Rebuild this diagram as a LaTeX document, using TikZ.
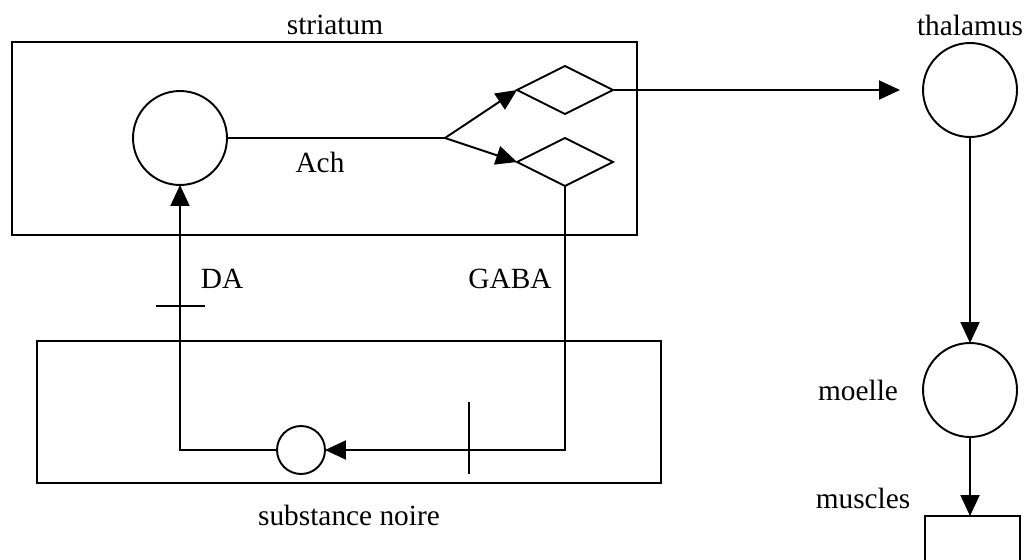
\documentclass[tikz,border=0pt]{standalone}
\usepackage{fontspec}
\setmainfont{Liberation Serif}
\usetikzlibrary{arrows.meta,shapes.geometric}
\def \globalscale {0.020000}

\begin{document}
\begin{tikzpicture}[x=\globalscale cm, y=-\globalscale cm, inner sep=0pt, outer sep=0pt,
    line width=1.1pt,
    every node/.append style={font=\fontsize{16.7}{20}\selectfont},
    box/.style={draw, rectangle},
    cell/.style={draw, circle, minimum size=1.88cm},
    smallcell/.style={draw, circle, minimum size=0.96cm},
    synapse/.style={draw, diamond, minimum width=1.92cm, minimum height=0.96cm},
    conn/.style={-{Triangle[length=0.42cm,width=0.38cm]}}]
  \useasboundingbox (0, 0) rectangle (1026, 560);

  % boxes
  \node[box, minimum width=12.5cm, minimum height=3.86cm] (striatumbox) at (324.5, 138.5){};
  \node[box, minimum width=12.48cm, minimum height=2.84cm] (noirebox) at (349, 412){};
  \node[box, minimum width=1.9cm, minimum height=1.9cm] (muscles) at (972.5, 563.5){};

  % cells
  \node[cell] (ach) at (180, 138){};
  \node[synapse] (syntop) at (565, 90){};
  \node[synapse] (synbot) at (565, 162){};
  \node[cell] (thalamus) at (970, 90){};
  \node[cell] (moelle) at (970, 390){};
  \node[smallcell] (da) at (301, 450){};
  \coordinate (branch) at (445, 138);
  \coordinate (thalin) at (900, 90);

  % labels
  \node (text1) at (335, 25){striatum};
  \node (text2) at (970, 25){thalamus};
  \node (text3) at (320, 162){Ach};
  \node (text4) at (222, 279){DA};
  \node (text5) at (510, 279){GABA};
  \node (text6) at (858, 390){moelle};
  \node (text7) at (863, 498){muscles};
  \node (text8) at (349, 515){substance noire};

  % connections
  \draw (ach.east) -- (branch);
  \draw[conn] (branch) -- (syntop.west);
  \draw[conn] (branch) -- (synbot.west);
  \draw[conn] (syntop.east) -- (thalin);
  \draw[conn] (thalamus.south) -- (moelle.north);
  \draw[conn] (moelle.south) -- (moelle.south |- muscles.north);
  \draw[conn] (synbot.south) |- (da.east);
  \draw[conn] (da.west) -| (ach.south);

  % inhibition bars
  \draw (469, 402) -- (469, 474);
  \draw (156, 306) -- (205, 306);

\end{tikzpicture}
\end{document}
